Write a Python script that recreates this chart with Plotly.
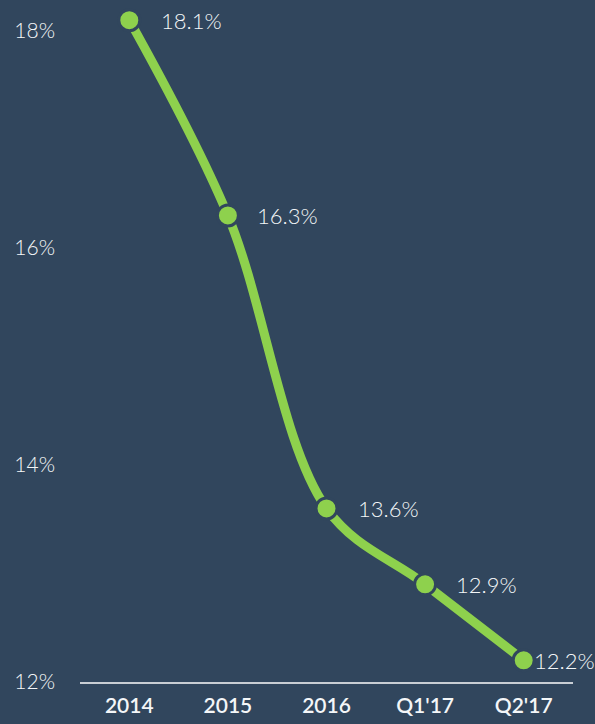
import plotly.graph_objects as go

categories = ["2014", "2015", "2016", "Q1'17", "Q2'17"]
values = [18.1, 16.3, 13.6, 12.9, 12.2]
labels = ["18.1%", "16.3%", "13.6%", "12.9%", "12.2%"]
y_ticks = [12, 14, 16, 18]
y_tick_text = ["12%", "14%", "16%", "18%"]
label_shift = [32, 29, 31, 31, 10]

BG = "#31465d"
GREEN = "#8ed14d"
TXT = "#f4f6f8"

fig = go.Figure()
fig.add_trace(go.Scatter(
    x=categories, y=values, mode="lines+markers",
    line=dict(color=GREEN, width=9, shape="spline", smoothing=1),
    marker=dict(size=21, color=GREEN, line=dict(color=BG, width=3)),
    cliponaxis=False, hoverinfo="skip",
))

for i, (v, t, s) in enumerate(zip(values, labels, label_shift)):
    fig.add_annotation(x=i, y=v, xref="x", yref="y", text=t, showarrow=False,
                       xanchor="left", yanchor="middle", xshift=s - 2,
                       font=dict(family="Lato", size=22, color=TXT, weight=300))

fig.update_layout(
    width=595, height=724,
    paper_bgcolor=BG, plot_bgcolor=BG,
    margin=dict(l=80, r=22, t=0, b=42),
    showlegend=False,
    xaxis=dict(type="category", range=[-0.5, 4.5], showgrid=False, zeroline=False,
               showline=True, linecolor="#c9ced4", linewidth=2,
               ticks="", tickfont=dict(family="Lato", size=21, color=TXT, weight=600),
               ticklabelstandoff=4),
    yaxis=dict(range=[12, 18.286], showgrid=False, zeroline=False, showline=False,
               tickvals=y_ticks, ticktext=y_tick_text, ticks="",
               tickfont=dict(family="Lato", size=21, color=TXT, weight=300),
               ticklabelstandoff=24),
)

fig.write_html("out.html", config={"displayModeBar": False},
               post_script="document.body.style.margin='0';document.body.style.overflow='hidden';")
